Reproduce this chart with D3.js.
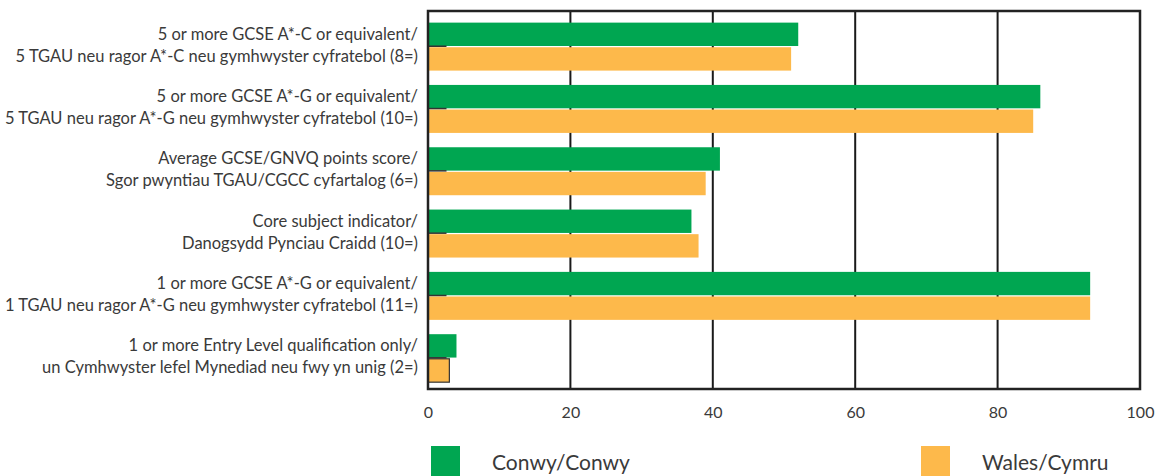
<!DOCTYPE html>
<html><head><meta charset="utf-8">
<script src="https://cdn.jsdelivr.net/npm/d3@7"></script>
<style>
body{margin:0;background:#fff;}
svg{display:block;}
text{font-family:Lato,"Open Sans",sans-serif;fill:#3a3a3a;}
</style></head>
<body><svg id="c" width="1156" height="476"></svg>
<script>
const categories = [
  ["5 or more GCSE A*-C or equivalent/", "5 TGAU neu ragor A*-C neu gymhwyster cyfratebol (8=)"],
  ["5 or more GCSE A*-G or equivalent/", "5 TGAU neu ragor A*-G neu gymhwyster cyfratebol (10=)"],
  ["Average GCSE/GNVQ points score/", "Sgor pwyntiau TGAU/CGCC cyfartalog (6=)"],
  ["Core subject indicator/", "Danogsydd Pynciau Craidd (10=)"],
  ["1 or more GCSE A*-G or equivalent/", "1 TGAU neu ragor A*-G neu gymhwyster cyfratebol (11=)"],
  ["1 or more Entry Level qualification only/", "un Cymhwyster lefel Mynediad neu fwy yn unig (2=)"]
];
const conwy = [52, 86, 41, 37, 93, 4];
const wales = [51, 85, 39, 38, 93, 3];
const seriesNames = ["Conwy/Conwy", "Wales/Cymru"];
const xTicks = [0, 20, 40, 60, 80, 100];

const colors = ["#00a651", "#fdb94b"];
const svg = d3.select("#c");
const L = 428, R = 1140, T = 11, B = 389;

const x = d3.scaleLinear().domain([0, 100]).range([L, R]);
const y = d3.scaleBand().domain(d3.range(categories.length)).range([T, B])
  .paddingInner(0.23).paddingOuter(0.148).align(0.63);
const sub = d3.scaleBand().domain([0, 1]).range([0, y.bandwidth()]).paddingInner(0.05);

// gridlines
svg.append("g").selectAll("line").data(xTicks.slice(1, -1)).join("line")
  .attr("x1", d => x(d)).attr("x2", d => x(d)).attr("y1", T).attr("y2", B)
  .attr("stroke", "#1a1a1a").attr("stroke-width", 2);

// bars
const series = [conwy, wales];
const g = svg.append("g");
series.forEach((vals, si) => {
  g.selectAll(null).data(vals).join("rect")
    .attr("x", x(0)).attr("y", (d, i) => y(i) + sub(si))
    .attr("width", d => x(d) - x(0)).attr("height", sub.bandwidth())
    .attr("fill", colors[si])
    .attr("stroke", (d, i) => (si === 1 && i === vals.length - 1) ? "#333" : "none")
    .attr("stroke-width", 1.2);
});

// small marks between bars
svg.append("g").selectAll("line").data(d3.range(categories.length)).join("line")
  .attr("x1", x(0)).attr("x2", x(2.6))
  .attr("y1", i => y(i) + sub(1) - 1).attr("y2", i => y(i) + sub(1) - 1)
  .attr("stroke", "#333").attr("stroke-width", 1.5);

// frame
svg.append("rect").attr("x", L).attr("y", T).attr("width", R - L).attr("height", B - T)
  .attr("fill", "none").attr("stroke", "#222").attr("stroke-width", 2.5);

// x axis labels
const xa = svg.append("g").attr("transform", `translate(0,${B})`)
  .call(d3.axisBottom(x).tickValues(xTicks).tickSize(0).tickPadding(18));
xa.select(".domain").remove();
xa.selectAll("text").style("font-size", "16px").attr("fill", "#3a3a3a")
  .style("font-family", "Lato, sans-serif");

// category labels
const lab = svg.append("g").selectAll("text").data(categories).join("text")
  .attr("text-anchor", "end").style("font-size", "16.5px")
  .attr("transform", (d, i) => `translate(418,${y(i) + y.bandwidth() / 2})`);
lab.selectAll("tspan").data(d => d).join("tspan")
  .attr("x", 0).attr("y", (d, j) => j === 0 ? -7 : 15).text(d => d);

// legend
const legX = [431, 921];
seriesNames.forEach((n, i) => {
  svg.append("rect").attr("x", legX[i]).attr("y", 446).attr("width", 29).attr("height", 32)
    .attr("fill", colors[i]);
  svg.append("text").attr("x", legX[i] + 61).attr("y", 470).style("font-size", "21px").text(n);
});
</script></body></html>
